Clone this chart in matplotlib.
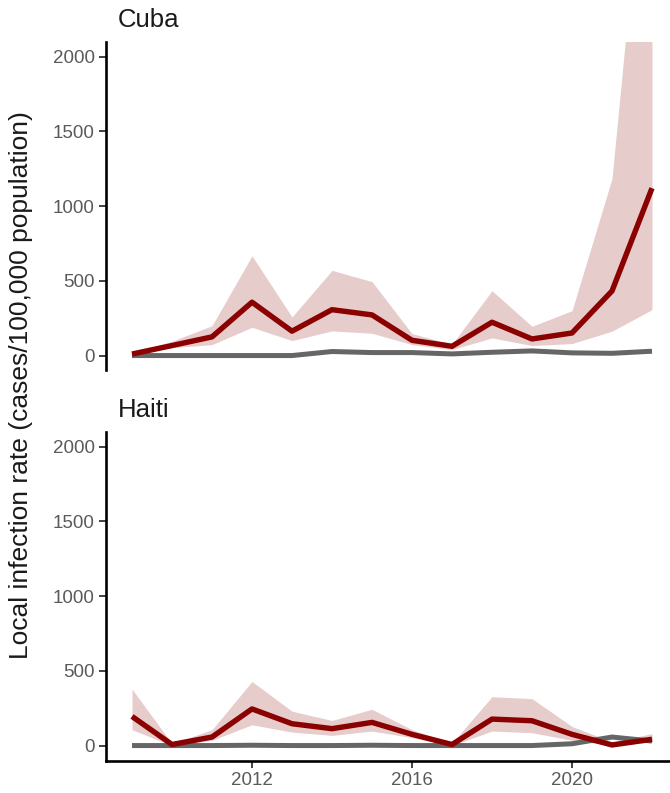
import matplotlib
matplotlib.use("Agg")
import matplotlib.pyplot as plt
import numpy as np

plt.rcParams['font.family'] = ['Liberation Sans', 'DejaVu Sans']

years = [2009, 2010, 2011, 2012, 2013, 2014, 2015, 2016, 2017, 2018, 2019, 2020, 2021, 2022]

cuba_rate = [10, 67, 125, 357, 163, 307, 272, 102, 62, 223, 111, 151, 432, 1120]
cuba_upper = [15, 96, 200, 668, 258, 570, 495, 147, 76, 434, 196, 300, 1185, 3950]
cuba_lower = [5, 53, 73, 189, 100, 165, 149, 73, 40, 118, 67, 80, 163, 307]
cuba_baseline = [0, 0, 0, 0, 0, 27, 20, 20, 11, 22, 31, 18, 15, 29]

haiti_rate = [195, 7, 57, 245, 146, 113, 155, 75, 7, 177, 166, 75, 4, 42]
haiti_upper = [378, 13, 106, 429, 230, 168, 243, 106, 17, 327, 314, 128, 24, 80]
haiti_lower = [106, 0, 35, 139, 90, 68, 97, 53, 0, 97, 86, 35, 0, 24]
haiti_baseline = [0, 0, 0, 2, 0, 0, 2, 0, 0, 0, 0, 12, 57, 30]

panels = [
    ("Cuba", cuba_rate, cuba_lower, cuba_upper, cuba_baseline),
    ("Haiti", haiti_rate, haiti_lower, haiti_upper, haiti_baseline),
]

y_ticks = [0, 500, 1000, 1500, 2000]
x_ticks = [2012, 2016, 2020]

W, H = 670, 793
fig = plt.figure(figsize=(W / 100, H / 100), dpi=100)

left = 106 / W
ax_h = 328.8 / H
ax_top = fig.add_axes([left, 1 - 370.5 / H, 1 - left, ax_h])
ax_bot = fig.add_axes([left, 1 - 760.5 / H, 1 - left, ax_h])

red = '#8B0000'
gray = '#666666'

for ax, (name, rate, lo, hi, base), is_bottom, tb in zip(
        [ax_top, ax_bot], panels, [False, True], [27, 417]):
    ax.fill_between(years, lo, hi, color=red, alpha=0.2, linewidth=0)
    ax.plot(years, base, color=gray, lw=3.6, solid_capstyle='butt', solid_joinstyle='round')
    ax.plot(years, rate, color=red, lw=3.9, solid_capstyle='butt', solid_joinstyle='round')
    ax.set_xlim(2008.35, 2022.45)
    ax.set_ylim(-100, 2100)
    ax.set_yticks(y_ticks)
    ax.set_yticklabels([str(v) for v in y_ticks])
    for s in ['top', 'right']:
        ax.spines[s].set_visible(False)
    ax.spines['left'].set_linewidth(1.9)
    ax.spines['bottom'].set_linewidth(1.9)
    ax.tick_params(axis='both', length=5, width=1.3, color='#333333',
                   labelcolor='#5a5a5a', labelsize=13.5, pad=3)
    if is_bottom:
        ax.set_xticks(x_ticks)
        ax.set_xticklabels([str(v) for v in x_ticks])
    else:
        ax.spines['bottom'].set_visible(False)
        ax.set_xticks([])
    fig.text(118 / W, 1 - tb / H, name, fontsize=18.5, color='#1a1a1a',
             ha='left', va='baseline')

fig.text(21 / W, 1 - 385 / H, "Local infection rate (cases/100,000 population)",
         rotation=90, ha='center', va='center', fontsize=19, color='#1a1a1a')

fig.savefig("out.png", dpi=100)
